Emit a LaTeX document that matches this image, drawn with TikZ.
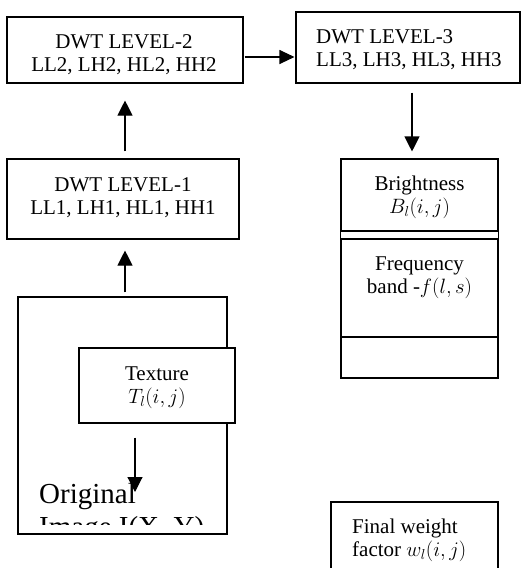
\documentclass[tikz,border=0pt]{standalone}
\usepackage{fontspec}
\setmainfont{Liberation Serif}
\usetikzlibrary{arrows.meta,calc}
\begin{document}
\begin{tikzpicture}[x=1pt,y=-1pt,
  box/.style={draw, line width=1.1pt, inner sep=0pt, fill=white},
  txt/.style={inner sep=0pt, font=\fontsize{21}{23}\selectfont, align=center},
  arr/.style={line width=1.1pt, -{Triangle[length=15pt,width=15pt]}}]
\useasboundingbox (0,0) rectangle (521,568);
\fill[white] (0,0) rectangle (521,568);

% DWT level 2
\node[box, minimum width=236pt, minimum height=66pt] (l2) at (125,50) {};
\node[txt, anchor=base] (l2t) at (124,71) {DWT LEVEL-2\\LL2, LH2, HL2, HH2};

% DWT level 3
\node[box, minimum width=224pt, minimum height=71pt] (l3) at (408,47.5) {};
\node[txt, anchor=base west, align=left] (l3t) at (316,66) {DWT LEVEL-3\\LL3, LH3, HL3, HH3};

% DWT level 1
\node[box, minimum width=232pt, minimum height=80pt] (l1) at (123,199) {};
\node[txt, anchor=base] (l1t) at (123,214) {DWT LEVEL-1\\LL1, LH1, HL1, HH1};

% Brightness / frequency stack
\node[box, minimum width=157pt, minimum height=72pt] (bright) at (419.5,195) {};
\node[txt, anchor=base] (brightt) at (419.5,213) {Brightness\\$B_l(i,j)$};
\node[box, minimum width=157pt, minimum height=98pt] (freq) at (419.5,288) {};
\node[txt, anchor=base] (freqt) at (419.5,293) {Frequency\\band -$f(l,s)$};
\node[box, minimum width=157pt, minimum height=41pt] (blank) at (419.5,357.5) {};
\draw[line width=1.1pt] (bright.south west) -- (freq.north west);
\draw[line width=1.1pt] (bright.south east) -- (freq.north east);

% Original image
\node[box, minimum width=209pt, minimum height=237pt] (orig) at (122.5,415.5) {};
\begin{scope}
  \clip (18,297) rectangle (227,524);
  \node[inner sep=0pt, anchor=base west, align=left, font=\fontsize{29}{33}\selectfont] (origt) at (39,536) {Original\\Image I(X, Y)};
\end{scope}

% Texture
\node[box, minimum width=156pt, minimum height=75pt] (tex) at (157,385.5) {};
\node[txt, anchor=base] (text) at (157,403) {Texture\\$T_l(i,j)$};

% Final weight
\node[box, minimum width=167pt, minimum height=100pt] (final) at (414.5,552) {};
\node[txt, anchor=base west, align=left] (finalt) at (352,556) {Final weight\\factor $w_l(i,j)$};

% Connectors
\draw[arr, shorten <=7pt, shorten >=17pt] ([xshift=2pt]l1.north) -- ([xshift=2pt]l1.north |- l2.south);
\draw[arr, shorten <=1pt, shorten >=1pt, -{Triangle[length=15pt,width=14pt]}] ([yshift=-7pt]l2.east) -- ([yshift=-7pt]l2.east -| l3.west);
\draw[arr, shorten <=9pt, shorten >=7pt] ([xshift=-7.5pt]bright.north |- l3.south) -- ([xshift=-7.5pt]bright.north);
\draw[arr, shorten <=4pt, shorten >=11pt] ([xshift=2pt]l1.south |- orig.north) -- ([xshift=2pt]l1.south);
\coordinate (texend) at (135,492);
\draw[arr, shorten <=14pt] ([xshift=-22pt]tex.south) -- (texend);
\end{tikzpicture}
\end{document}
